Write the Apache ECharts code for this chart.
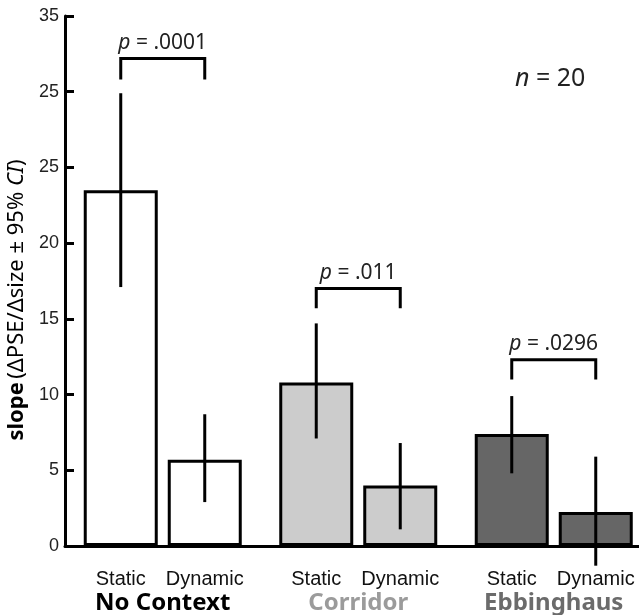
<!DOCTYPE html>
<html lang="en">
<head>
    <meta charset="UTF-8">
    <title>slope</title>
    <style>
        html, body { margin: 0; padding: 0; background: #fff; }
    </style>
</head>
<body>
<div id="main" style="width: 639px;height:615px;"></div>
<script src="https://cdn.jsdelivr.net/npm/echarts@6/dist/echarts.min.js"></script>
<script type="text/javascript">
    var myChart = echarts.init(document.getElementById("main"));

    // data
    var categories = ["No Context", "Corridor", "Ebbinghaus"];
    var conditions = ["Static", "Dynamic"];
    var staticMean = [23.5, 10.8, 7.4];
    var dynamicMean = [5.7, 4.0, 2.25];
    var staticLow = [17.1, 7.1, 4.8];
    var staticHigh = [29.9, 14.7, 9.9];
    var dynamicLow = [2.9, 1.1, -1.3];
    var dynamicHigh = [8.7, 6.8, 5.9];
    var bracketLeg = [30.8, 15.7, 11.0];
    var bracketTop = [32.2, 17.0, 12.3];
    var pValues = [".0001", ".011", ".0296"];
    // the figure labels the 30 tick as "25"
    var yTickLabels = ["0", "5", "10", "15", "20", "25", "25", "35"];

    var barFill = ["#ffffff", "#cccccc", "#666666"];
    var groupColor = ["#000000", "#9b9b9b", "#6b6b6b"];

    var barW = 74, barGapPx = 10;
    var half = (barW + barGapPx) / 2;

    function errorSeries(low, high, offset) {
        return {
            type: "custom",
            z: 5,
            clip: false,
            encode: {x: 0, y: [1, 2]},
            data: low.map(function (v, i) { return [i, v, high[i]]; }),
            renderItem: function (params, api) {
                var x = api.coord([api.value(0), 0])[0] + offset;
                var y1 = api.coord([api.value(0), api.value(1)])[1];
                var y2 = api.coord([api.value(0), api.value(2)])[1];
                return {
                    type: "line",
                    shape: {x1: x, y1: y1, x2: x, y2: y2},
                    style: {stroke: "#000", lineWidth: 3}
                };
            }
        };
    }

    var richLabel = {
        s: {width: 2 * half, align: "center", fontSize: 20, fontFamily: "Liberation Sans", color: "#111", lineHeight: 24},
        d: {width: 2 * half, align: "center", fontSize: 20, fontFamily: "Liberation Sans", color: "#111", lineHeight: 24}
    };
    categories.forEach(function (c, i) {
        richLabel["g" + i] = {fontSize: 24, fontWeight: "bold", fontFamily: "Noto Sans", color: groupColor[i], lineHeight: 24};
    });

    var option = {
        animation: false,
        // grid runs past the right edge, as the x axis line does in the figure
        grid: {left: 65, top: 16, right: -12.5, bottom: 69, outerBoundsMode: "none"},
        xAxis: {
            type: "category",
            data: categories,
            axisLine: {lineStyle: {color: "#000", width: 3}},
            axisTick: {show: false},
            axisLabel: {
                margin: 21,
                formatter: function (v, i) {
                    return "{s|" + conditions[0] + "}{d|" + conditions[1] + "}\n{g" + i + "|" + v + "}";
                },
                rich: richLabel
            }
        },
        yAxis: {
            type: "value",
            min: 0,
            max: 35,
            interval: 5,
            splitLine: {show: false},
            axisLine: {show: true, lineStyle: {color: "#000", width: 3}},
            axisTick: {show: true, inside: true, length: 9, lineStyle: {width: 3, color: "#000"}},
            axisLabel: {
                margin: 6,
                fontSize: 18,
                fontFamily: "Liberation Sans",
                color: "#222",
                formatter: function (v) { return yTickLabels[Math.round(v / 5)]; }
            },
            name: "{b|slope} {n|(ΔPSE/Δsize ± 95% }{it|CI}{n|)}",
            nameLocation: "middle",
            nameRotate: 90,
            nameGap: 36,
            nameTextStyle: {
                padding: [0, 38, 0, 0],
                rich: {
                    b: {fontSize: 22, fontWeight: "bold", fontFamily: "Noto Sans", color: "#000"},
                    n: {fontSize: 22, fontFamily: "Noto Sans", color: "#000"},
                    it: {fontSize: 22, fontStyle: "italic", fontFamily: "Noto Sans", color: "#000"}
                }
            }
        },
        graphic: [{
            type: "text",
            left: 515,
            top: 66,
            style: {
                text: "{i|n} = 20",
                font: "25px 'Noto Sans'",
                fill: "#222",
                rich: {i: {fontStyle: "italic", fontSize: 25, fontFamily: "Noto Sans", fill: "#222"}}
            }
        }],
        series: [{
            name: conditions[0],
            type: "bar",
            barWidth: barW,
            barGap: (barGapPx / barW * 100) + "%",
            itemStyle: {borderColor: "#000", borderWidth: 3},
            data: staticMean.map(function (v, i) { return {value: v, itemStyle: {color: barFill[i]}}; })
        }, {
            name: conditions[1],
            type: "bar",
            barWidth: barW,
            itemStyle: {borderColor: "#000", borderWidth: 3},
            data: dynamicMean.map(function (v, i) { return {value: v, itemStyle: {color: barFill[i]}}; })
        },
        errorSeries(staticLow, staticHigh, -half),
        errorSeries(dynamicLow, dynamicHigh, half),
        {
            type: "custom",
            z: 5,
            clip: false,
            encode: {x: 0, y: [1, 2]},
            data: bracketLeg.map(function (v, i) { return [i, v, bracketTop[i]]; }),
            renderItem: function (params, api) {
                var i = api.value(0);
                var cx = api.coord([i, 0])[0];
                var yLeg = api.coord([i, api.value(1)])[1];
                var yTop = api.coord([i, api.value(2)])[1];
                return {
                    type: "group",
                    children: [{
                        type: "polyline",
                        shape: {points: [[cx - half, yLeg], [cx - half, yTop], [cx + half, yTop], [cx + half, yLeg]]},
                        style: {stroke: "#000", lineWidth: 3, fill: null}
                    }, {
                        type: "text",
                        x: cx,
                        y: yTop - 5,
                        style: {
                            text: "{i|p} = " + pValues[i],
                            align: "center",
                            verticalAlign: "bottom",
                            font: "21px 'Noto Sans'",
                            fill: "#222",
                            rich: {i: {fontStyle: "italic", fontSize: 21, fontFamily: "Noto Sans", fill: "#222"}}
                        }
                    }]
                };
            }
        }]
    };

    myChart.setOption(option);
</script>
</body>
</html>
